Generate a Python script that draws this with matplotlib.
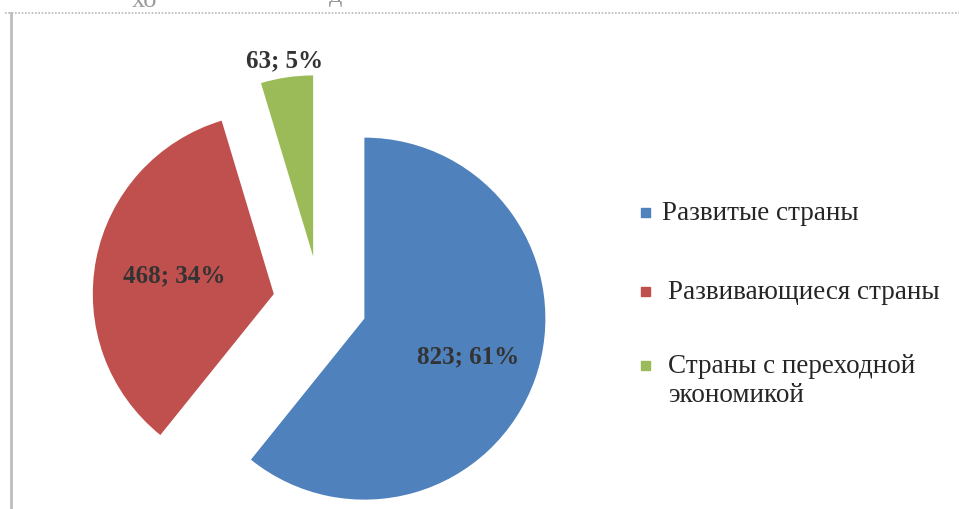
import numpy as np
import matplotlib
matplotlib.use("Agg")
import matplotlib.pyplot as plt
from matplotlib.patches import Rectangle
from matplotlib.lines import Line2D

# Data
categories = ["Развитые страны", "Развивающиеся страны", "Страны с переходной\nэкономикой"]
values = [823, 468, 63]
shares = [61, 34, 5]  # percent shown in the labels

colors = ["#4F81BD", "#C0504D", "#9BBB59"]
label_dist = [0.61, 0.56, 1.10]   # label distance from each wedge centre, in radii

W, H = 959, 510
R = 181.0            # pie radius in pixels
cx, cy = 320, 304    # pie centre in pixels (from top-left)

SERIF = ["Liberation Serif", "DejaVu Serif"]
plt.rcParams["font.family"] = SERIF

fig = plt.figure(figsize=(W / 100, H / 100), dpi=100)
ax = fig.add_axes([0, 0, 1, 1])

wedges, _ = ax.pie(values, colors=colors, startangle=90, counterclock=False,
                   explode=[0.26] * len(values), radius=1,
                   wedgeprops=dict(linewidth=0))
ax.set_xlim(-cx / R, (W - cx) / R)
ax.set_ylim(-(H - cy) / R, cy / R)
ax.set_aspect("auto")
ax.axis("off")

# value labels
for w, v, s, d in zip(wedges, values, shares, label_dist):
    th = np.deg2rad((w.theta1 + w.theta2) / 2)
    x0, y0 = w.center
    ax.text(x0 + d * w.r * np.cos(th), y0 + d * w.r * np.sin(th), f"{v}; {s}%",
            ha="center", va="center", fontsize=18, fontweight="bold",
            color="#333333", family=SERIF)

# legend
leg_marker_y = [213, 292, 366]
leg_text_x = [662, 668, 668]
for c, lab, my, tx in zip(colors, categories, leg_marker_y, leg_text_x):
    fig.patches.append(Rectangle((641 / W, 1 - (my + 4.5) / H), 9 / W, 9 / H,
                                 transform=fig.transFigure, color=c))
    fig.text(tx / W, 1 - (my - 12) / H, lab, ha="left", va="top", fontsize=19.5,
             color="#262626", linespacing=1.2, family=SERIF)

# chart frame
fig.add_artist(Line2D([11 / W, 11 / W], [0, 1 - 14 / H], transform=fig.transFigure,
                      color="#bdbdbd", lw=2))
fig.add_artist(Line2D([5 / W, 1], [1 - 14 / H, 1 - 14 / H], transform=fig.transFigure,
                      color="#b8b8b8", lw=1.2, ls=(0, (1, 1))))

# remnants of the caption above the frame
fig.text(145 / W, 1 - 7 / H, "хо", ha="center", va="baseline", fontsize=19,
         color="#9a9a9a", family=SERIF)
fig.text(336 / W, 1 - 2 / H, "д", ha="center", va="baseline", fontsize=19,
         color="#9a9a9a", family=SERIF)

fig.savefig("out.png", dpi=100)
